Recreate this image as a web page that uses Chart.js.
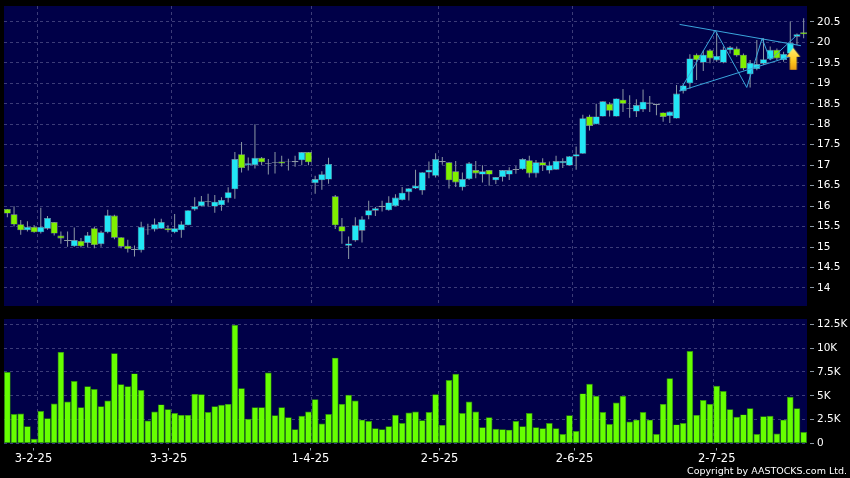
<!DOCTYPE html>
<html>
<head>
<meta charset="utf-8">
<script src="https://cdn.jsdelivr.net/npm/chart.js@4/dist/chart.umd.min.js"></script>
<style>
html, body { margin: 0; padding: 0; background: #000; width: 850px; height: 478px; overflow: hidden; }
canvas { position: absolute; left: 0; }
#priceChart { top: 0; }
#volChart { top: 313px; }
#copy { position: absolute; right: 3px; top: 465px; color: #fff; font: 9.5px "DejaVu Sans", sans-serif; white-space: nowrap; }
</style>
</head>
<body>
<canvas id="priceChart" width="850" height="313"></canvas>
<canvas id="volChart" width="850" height="165"></canvas>
<div id="copy">Copyright by AASTOCKS.com Ltd.</div>
<script>
// daily candles
var opens = [15.93,15.80,15.56,15.41,15.49,15.36,15.45,15.61,15.28,15.15,15.02,15.15,15.10,15.46,15.07,15.36,15.77,15.24,15.03,14.93,
  14.92,15.41,15.43,15.45,15.46,15.36,15.41,15.53,15.92,16.00,16.10,15.99,16.02,16.19,16.41,17.27,17.00,17.00,17.18,17.03,
  17.06,17.09,17.08,17.07,17.12,17.32,16.56,16.63,16.65,16.24,15.51,15.03,15.16,15.40,15.77,15.89,15.98,15.90,16.00,16.15,
  16.34,16.43,16.38,16.82,16.74,17.07,17.07,16.85,16.46,16.66,16.88,16.77,16.88,16.63,16.71,16.77,16.88,16.90,17.12,16.80,
  17.07,16.87,16.89,17.05,16.99,17.21,17.28,18.19,18.00,18.19,18.50,18.19,18.60,18.38,18.31,18.36,18.50,18.47,18.29,18.20,
  18.14,18.81,19.00,19.70,19.51,19.81,19.56,19.51,19.81,19.85,19.70,19.22,19.35,19.48,19.59,19.82,19.57,19.73,20.14,20.25];
var closes = [15.82,15.55,15.41,15.49,15.36,15.49,15.71,15.33,15.21,15.17,15.17,15.02,15.29,15.05,15.36,15.78,15.23,15.01,14.95,14.96,
  15.49,15.43,15.56,15.61,15.41,15.46,15.56,15.90,16.00,16.12,16.12,16.11,16.15,16.34,17.15,16.93,17.05,17.18,17.07,17.05,
  17.08,17.04,17.09,17.10,17.32,17.07,16.66,16.78,17.03,15.53,15.38,15.09,15.53,15.68,15.90,15.95,16.01,16.09,16.21,16.33,
  16.44,16.50,16.83,16.89,17.15,17.10,16.63,16.58,16.66,17.05,16.80,16.85,16.77,16.71,16.88,16.88,16.91,17.15,16.80,17.07,
  16.99,17.00,17.10,17.10,17.22,17.27,18.15,17.96,18.19,18.56,18.33,18.63,18.50,18.40,18.47,18.55,18.53,18.50,18.18,18.31,
  18.75,18.95,19.61,19.57,19.70,19.61,19.67,19.83,19.88,19.68,19.36,19.50,19.47,19.59,19.82,19.61,19.72,19.99,20.20,20.20];
var highs = [15.93,16.00,15.66,15.63,15.54,15.96,15.76,15.61,15.38,15.38,15.48,15.22,15.37,15.49,15.40,15.91,15.79,15.24,15.18,15.04,
  15.62,15.57,15.70,15.69,15.53,15.81,15.63,15.90,16.22,16.25,16.30,16.27,16.22,16.46,17.32,17.57,17.19,18.00,17.20,17.15,
  17.32,17.23,17.16,17.23,17.32,17.32,16.74,16.85,17.18,16.27,15.71,15.26,15.73,15.75,16.13,15.98,16.13,16.24,16.29,16.47,
  16.44,16.89,16.83,17.09,17.29,17.20,17.07,17.10,16.82,17.08,17.10,17.00,16.88,16.71,16.88,16.95,16.98,17.17,17.23,17.13,
  17.17,17.09,17.23,17.17,17.22,17.46,18.23,18.23,18.50,18.56,18.54,18.63,18.86,18.71,18.61,18.85,18.69,18.50,18.29,18.31,
  18.96,18.98,19.71,19.73,19.80,19.84,20.26,19.90,19.91,19.90,19.73,19.57,20.06,20.10,19.90,19.85,19.77,20.51,20.22,20.59];
var lows = [15.73,15.50,15.30,15.38,15.35,15.33,15.42,15.28,15.08,15.01,15.01,14.99,14.99,14.97,15.01,15.34,15.19,14.97,14.87,14.77,
  14.87,15.30,15.38,15.45,15.36,15.34,15.23,15.53,15.89,15.99,15.99,15.84,15.89,16.09,16.18,16.82,16.87,16.92,17.00,16.77,
  16.80,16.97,16.87,16.96,17.00,17.00,16.30,16.40,16.55,15.44,15.08,14.71,15.13,15.11,15.68,15.76,15.87,15.89,16.00,16.14,
  16.14,16.42,16.28,16.68,16.70,17.01,16.43,16.47,16.38,16.64,16.68,16.58,16.50,16.54,16.60,16.64,16.79,16.89,16.70,16.70,
  16.86,16.80,16.89,16.93,16.99,16.89,17.28,17.85,18.00,18.19,18.19,18.19,18.30,18.16,18.18,18.30,18.30,18.22,18.06,18.03,
  18.14,18.75,18.87,19.08,19.30,19.49,19.53,19.49,19.73,19.65,19.32,18.90,19.32,19.45,19.57,19.57,19.53,19.69,19.94,20.10];
// volume in thousands
var volumes = [7.5,3.1,3.15,1.8,0.5,3.4,2.65,4.2,9.6,4.4,6.55,3.8,6.0,5.7,3.9,4.5,9.45,6.2,6.0,7.35,
  5.6,2.4,3.35,4.1,3.6,3.2,3.0,3.0,5.2,5.15,3.3,3.9,4.05,4.15,12.45,5.8,2.6,3.8,3.8,7.45,
  2.95,3.8,2.75,1.5,2.9,3.35,4.65,2.1,3.1,9.0,4.15,5.1,4.5,2.5,2.35,1.6,1.5,1.8,3.0,2.15,
  3.25,3.35,2.45,3.3,5.15,1.95,6.65,7.3,3.2,4.4,3.35,1.7,2.75,1.55,1.5,1.45,2.35,1.8,3.2,1.7,
  1.6,2.15,1.6,1.0,2.95,1.3,5.25,6.25,5.0,3.3,2.05,4.3,5.0,2.3,2.5,3.3,2.5,1.0,4.15,6.85,
  2.0,2.15,9.7,3.0,4.55,4.15,6.05,5.5,3.6,2.8,3.05,3.7,1.0,2.85,2.9,1.05,2.5,4.9,3.7,1.2];

var priceTicks = [14,14.5,15,15.5,16,16.5,17,17.5,18,18.5,19,19.5,20,20.5];
var volTicks = [0,2.5,5,7.5,10,12.5];
var dateLabels = ['3-2-25','3-3-25','1-4-25','2-5-25','2-6-25','2-7-25'];
var dateSlots = [3.9,24.07,45.3,64.6,84.75,106];
var gridSlots = [4.5,24.5,45.5,64.5,84.5,105.5];

// drawn pattern lines, [candle slot, price]
var upperLine = [[100.46,20.44],[118.6,19.92]];
var lowerLine = [[100.46,18.81],[117.45,19.68]];
var zigzagLine = [[100.46,18.81],[105.8,20.29],[110.5,18.9],[112.8,20.1],[114,19.57],[118,20.18]];
var arrowMark = [[117.45,19.6]];

var plotBg = '#000048';
var gridColor = '#3c3c78';
var wickColor = '#8c98a4';
var upColor = '#22e6f5';
var downColor = '#80f000';
var volColor = '#66ff00';
var lineColor = '#3aa6dc';
var fontName = '"DejaVu Sans", sans-serif';

function slots(arr) {
    return arr.map(function (v, i) { return {x: i, y: v}; });
}

function points(arr) {
    return arr.map(function (p) { return {x: p[0], y: p[1]}; });
}

function makeArrow() {
    var c = document.createElement('canvas');
    c.width = 16;
    c.height = 24;
    var g = c.getContext('2d');
    var grad = g.createLinearGradient(0, 0, 0, 24);
    grad.addColorStop(0, '#fff27a');
    grad.addColorStop(0.6, '#ffc81e');
    grad.addColorStop(1, '#e89a10');
    g.fillStyle = grad;
    g.beginPath();
    g.moveTo(8, 1);
    g.lineTo(15, 10);
    g.lineTo(11.5, 10);
    g.lineTo(11.5, 23);
    g.lineTo(4.5, 23);
    g.lineTo(4.5, 10);
    g.lineTo(1, 10);
    g.closePath();
    g.fill();
    return c;
}

var panelBg = {
    id: 'panelBg',
    beforeDraw: function (chart) {
        var a = chart.chartArea;
        chart.ctx.fillStyle = plotBg;
        chart.ctx.fillRect(a.left, a.top, a.right - a.left, a.bottom - a.top);
    }
};

// vertical dashed lines only, no labels
function gridAxis(position) {
    return {
        type: 'linear', position: position, min: -0.5, max: 119.5, offset: false,
        afterBuildTicks: function (s) { s.ticks = gridSlots.map(function (v) { return {value: v}; }); },
        ticks: {display: false, autoSkip: false},
        grid: {color: gridColor, drawTicks: false, offset: false},
        border: {display: false, dash: [3, 3]},
        afterFit: function (s) { s.height = 0; }
    };
}

function valueAxis(min, max, tickList, label) {
    return {
        type: 'linear', position: 'right', min: min, max: max,
        afterBuildTicks: function (s) { s.ticks = tickList.map(function (v) { return {value: v}; }); },
        ticks: {color: '#fff', padding: 3, autoSkip: false, font: {family: fontName, size: 10.5}, callback: label},
        grid: {color: gridColor, tickColor: wickColor, tickLength: 7, tickBorderDash: [0, 3, 4, 99]},
        border: {display: false, dash: [3, 3]},
        afterFit: function (s) {
            s.width = 43;
            // labels sit inside the panel height, no room needed for them
            s.paddingTop = 0;
            s.paddingBottom = 0;
        }
    };
}

var baseOptions = {
    responsive: false,
    animation: false,
    devicePixelRatio: 1,
    plugins: {legend: {display: false}, tooltip: {enabled: false}}
};

var candleColors = opens.map(function (o, i) { return closes[i] >= o ? upColor : downColor; });

new Chart(document.getElementById('priceChart'), {
    type: 'bar',
    plugins: [panelBg],
    data: {
        datasets: [
            {type: 'line', data: points(upperLine), borderColor: lineColor, borderWidth: 1, pointRadius: 0, order: 0},
            {type: 'line', data: points(lowerLine), borderColor: lineColor, borderWidth: 1, pointRadius: 0, order: 0},
            {type: 'line', data: points(zigzagLine), borderColor: lineColor, borderWidth: 1, pointRadius: 0, order: 0},
            {type: 'line', data: points(arrowMark), showLine: false, pointStyle: makeArrow(), pointRadius: 12, order: -1},
            {
                data: opens.map(function (o, i) { return {x: i, y: [o, closes[i]]}; }),
                backgroundColor: candleColors, borderColor: wickColor, borderWidth: 0.6,
                borderSkipped: false, inflateAmount: 0, barThickness: 6.9, grouped: false, order: 1
            },
            {
                data: lows.map(function (l, i) { return {x: i, y: [l, highs[i]]}; }),
                backgroundColor: wickColor, borderWidth: 0,
                inflateAmount: 0, barThickness: 1, grouped: false, order: 2
            }
        ]
    },
    options: Object.assign({}, baseOptions, {
        layout: {autoPadding: false, padding: {left: 4, top: 6, bottom: 7, right: 0}},
        scales: {
            x: gridAxis('bottom'),
            y: valueAxis(13.56, 20.89, priceTicks, function (v) { return String(v); })
        }
    })
});

new Chart(document.getElementById('volChart'), {
    type: 'bar',
    plugins: [panelBg],
    data: {
        datasets: [{
            data: slots(volumes),
            backgroundColor: volColor, borderColor: '#2e9a00', borderWidth: 0.7,
            borderSkipped: false, inflateAmount: 0, barThickness: 6.6
        }]
    },
    options: Object.assign({}, baseOptions, {
        layout: {autoPadding: false, padding: {left: 4, top: 6, right: 0, bottom: 0}},
        scales: {
            x: gridAxis('top'),
            dates: {
                type: 'linear', position: 'bottom', min: -0.5, max: 119.5, offset: false,
                afterBuildTicks: function (s) { s.ticks = dateSlots.map(function (v) { return {value: v}; }); },
                ticks: {
                    color: '#fff', padding: 2, autoSkip: false, maxRotation: 0, font: {family: fontName, size: 11.5},
                    callback: function (v) { return dateLabels[dateSlots.indexOf(v)]; }
                },
                grid: {offset: false, drawOnChartArea: false, tickColor: wickColor, tickLength: 7, tickBorderDash: [0, 4, 3, 99]},
                border: {display: false},
                afterFit: function (s) { s.height = 34.5; }
            },
            y: valueAxis(0, 13.05, volTicks, function (v) { return v === 0 ? '0' : v + 'K'; })
        }
    })
});
</script>
</body>
</html>
